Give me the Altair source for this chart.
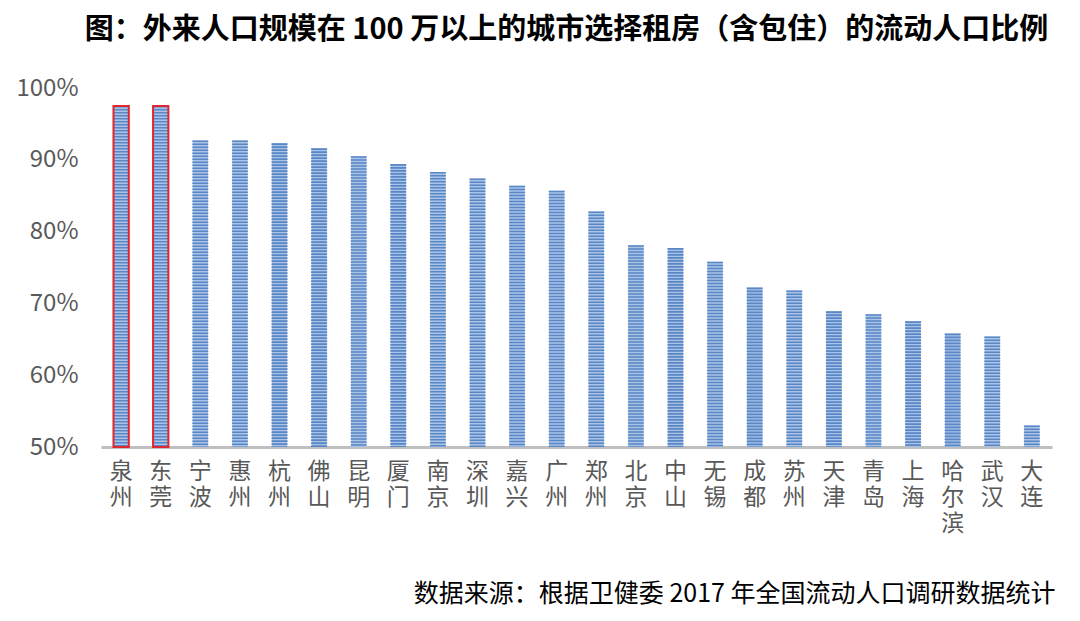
import altair as alt
import pandas as pd

cities = ["泉州", "东莞", "宁波", "惠州", "杭州", "佛山", "昆明", "厦门", "南京", "深圳",
          "嘉兴", "广州", "郑州", "北京", "中山", "无锡", "成都", "苏州", "天津", "青岛",
          "上海", "哈尔滨", "武汉", "大连"]
values = [97.5, 97.5, 92.7, 92.7, 92.3, 91.6, 90.5, 89.4, 88.3, 87.4,
          86.4, 85.7, 82.8, 78.1, 77.7, 75.8, 72.2, 71.8, 68.9, 68.5,
          67.5, 65.8, 65.4, 53.0]
highlight = ["泉州", "东莞"]
y_ticks = [50, 60, 70, 80, 90, 100]

title_text = "图：外来人口规模在 100 万以上的城市选择租房（含包住）的流动人口比例"
source_text = "数据来源：根据卫健委 2017 年全国流动人口调研数据统计"

df = pd.DataFrame({"city": cities, "value": values})
df["hl"] = df["city"].isin(highlight)

FONT = "Noto Sans CJK SC"
base_val = y_ticks[0]

x_enc = alt.X(
    "city:N", sort=cities,
    scale=alt.Scale(paddingInner=0.613, paddingOuter=0.315),
    axis=alt.Axis(
        title=source_text, titleFont=FONT, titleFontSize=25, titleFontWeight="normal",
        titleColor="#000000", titleAlign="right", titleBaseline="middle",
        titleX=954, titleY=146, titleAnchor="end",
        labelExpr="split(datum.label, '')", labelAngle=0, labelFont=FONT,
        labelFontSize=23, labelColor="#595959", labelLineHeight=26, labelPadding=13,
        labelBaseline="top",
        ticks=False, domainColor="#BFBFBF", domainWidth=3,
    ),
)
y_enc = alt.Y(
    "value:Q",
    scale=alt.Scale(domain=[y_ticks[0], y_ticks[-1]], zero=False, nice=False),
    axis=alt.Axis(
        title=None, values=y_ticks, labelExpr="datum.value + '%'", labelFont=FONT,
        labelFontSize=24, labelColor="#595959", labelPadding=23,
        ticks=False, domain=False, grid=False,
    ),
)

base = alt.Chart(df)
bg = base.mark_bar(color="#A9C2E6").encode(x=x_enc, y=y_enc, y2=alt.datum(base_val))
stripes = base.mark_rule(color="#5A87C6", strokeWidth=16, strokeDash=[1.6, 1.4], strokeCap="butt").encode(
    x=alt.X("city:N", sort=cities), y="value:Q", y2=alt.datum(base_val))
outline = base.transform_filter("datum.hl").mark_bar(
    fillOpacity=0, stroke="#E0262E", strokeWidth=2).encode(
    x=alt.X("city:N", sort=cities), y="value:Q", y2=alt.datum(base_val))

chart = alt.layer(bg, stripes, outline).properties(
    width=951, height=359,
    padding={"left": 93, "top": 80, "right": 20, "bottom": 166},
    autosize=alt.AutoSizeParams(type="none"),
    background="white",
    title=alt.TitleParams(title_text, font=FONT, fontSize=29, fontWeight="bold",
                          color="#000000", anchor="middle", offset=31, dx=-10),
).configure_view(stroke=None)

chart.save("out.html", embed_options={"renderer": "svg", "actions": False})
